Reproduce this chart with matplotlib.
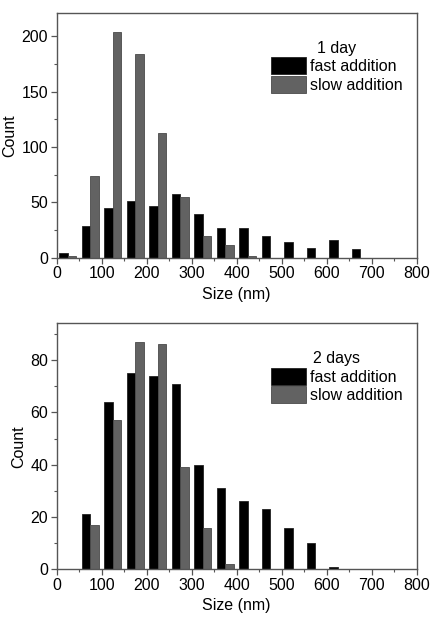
import matplotlib
matplotlib.use("Agg")

import numpy as np
import matplotlib.pyplot as plt
from matplotlib.ticker import MultipleLocator

plt.rcParams["font.family"] = ["Liberation Sans", "DejaVu Sans"]

# bin centres (nm), 50 nm bins
bin_centers = [25, 75, 125, 175, 225, 275, 325, 375, 425, 475, 525, 575, 625, 675]

fast_1day = [4, 29, 45, 51, 47, 58, 40, 27, 27, 20, 14, 9, 16, 8]
slow_1day = [2, 74, 204, 184, 113, 55, 20, 12, 1.5, 0, 0, 0, 0, 0]

fast_2days = [0, 21, 64, 75, 74, 71, 40, 31, 26, 23, 16, 10, 1, 0]
slow_2days = [0, 17, 57, 87, 86, 39, 16, 2, 0, 0, 0, 0, 0, 0]

FAST_COLOR = "black"
SLOW_COLOR = "#626262"
SPINE_COLOR = "#555555"
FS = 11.5


def draw_panel(ax, fast, slow, title, ymax, ymajor, yminor):
    x = np.array(bin_centers)
    w = 19
    ax.bar(x - w / 2, fast, w, color=FAST_COLOR, edgecolor="#222222",
           linewidth=0.6, label="fast addition")
    ax.bar(x + w / 2, slow, w, color=SLOW_COLOR, edgecolor="#4a4a4a",
           linewidth=0.6, label="slow addition")
    ax.set_xlim(0, 800)
    ax.set_ylim(0, ymax)
    ax.xaxis.set_major_locator(MultipleLocator(100))
    ax.xaxis.set_minor_locator(MultipleLocator(50))
    ax.yaxis.set_major_locator(MultipleLocator(ymajor))
    ax.yaxis.set_minor_locator(MultipleLocator(yminor))
    ax.tick_params(which="major", direction="out", length=4, width=0.9,
                   color=SPINE_COLOR, labelsize=FS, pad=2)
    ax.tick_params(which="minor", direction="out", length=2, width=0.8,
                   color=SPINE_COLOR)
    for s in ax.spines.values():
        s.set_color(SPINE_COLOR)
        s.set_linewidth(1.0)
    ax.set_xlabel("Size (nm)", fontsize=FS, labelpad=4)
    ax.set_ylabel("Count", fontsize=FS, labelpad=3)
    leg = ax.legend(title=title, loc="upper right", frameon=False,
                    fontsize=FS, title_fontsize=FS,
                    handlelength=2.2, handleheight=1.25, handletextpad=0.25,
                    labelspacing=0.1, borderaxespad=0.5,
                    bbox_to_anchor=(1.0, 0.945))
    leg.get_title().set_ha("center")


fig = plt.figure(figsize=(4.35, 6.17), dpi=100)
ax1 = fig.add_axes([0.130, 0.582, 0.828, 0.397])
ax2 = fig.add_axes([0.130, 0.077, 0.828, 0.399])

draw_panel(ax1, fast_1day, slow_1day, "1 day", 221, 50, 25)
draw_panel(ax2, fast_2days, slow_2days, "2 days", 94, 20, 10)

fig.savefig("out.png", dpi=100)
